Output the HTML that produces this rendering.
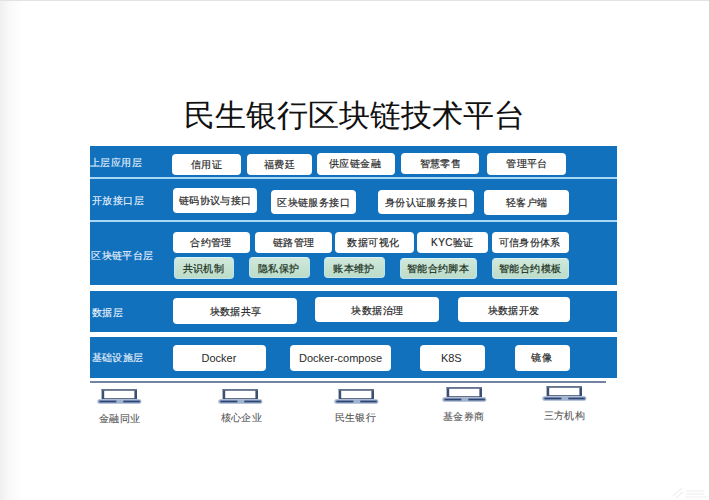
<!DOCTYPE html>
<html><head><meta charset="utf-8"><style>
html,body{margin:0;padding:0;}
body{width:710px;height:500px;position:relative;overflow:hidden;background:linear-gradient(to right,#efefef,#f8f8f8 8px,#fff 22px);font-family:"Liberation Sans",sans-serif;}
.band{position:absolute;left:89.5px;width:527px;background:#1271bd;}
.sep{position:absolute;left:89.5px;width:527px;background:#a9d9f7;}
.w,.g{position:absolute;box-sizing:border-box;border-radius:4px;}
.w{background:#fff;}
.g{background:linear-gradient(#d0e8dc,#bcdcc8);border:1.4px solid #bfe6f0;border-top-color:#d8f4f8;}
.t{position:absolute;white-space:nowrap;line-height:1;}
.title{font-size:30.5px;color:#111;}
.lab{font-size:10px;letter-spacing:0.4px;color:#eef6ff;-webkit-text-stroke:0.1px #eef6ff;}
.bt{font-size:10px;letter-spacing:0.4px;color:#262626;-webkit-text-stroke:0.18px #262626;}
.gt{font-size:10px;letter-spacing:0.4px;color:#1e3324;-webkit-text-stroke:0.22px #1e3324;}
.lt{font-size:11px;color:#2a2a2a;}
.bl{font-size:10px;letter-spacing:0.4px;color:#555;-webkit-text-stroke:0.1px #555;}
.lap{position:absolute;}
</style></head><body>
<div class="band" style="top:145.6px;height:31.6px"></div>
<div class="band" style="top:179px;height:41.4px"></div>
<div class="band" style="top:222.2px;height:62.8px"></div>
<div class="band" style="top:291px;height:40.8px"></div>
<div class="band" style="top:337.3px;height:40.9px"></div>
<div class="sep" style="top:177.2px;height:1.8px"></div>
<div class="sep" style="top:220.4px;height:1.8px"></div>
<div class="w" style="left:171.8px;top:153.5px;width:69.2px;height:21.5px"></div>
<div class="w" style="left:247px;top:153.5px;width:64.8px;height:21.5px"></div>
<div class="w" style="left:317px;top:153.2px;width:78.2px;height:21.4px"></div>
<div class="w" style="left:401px;top:152.7px;width:78.4px;height:21.2px"></div>
<div class="w" style="left:487px;top:153.2px;width:78.9px;height:21.4px"></div>
<div class="w" style="left:172.7px;top:187.7px;width:84.6px;height:25.4px"></div>
<div class="w" style="left:271px;top:189.6px;width:84.8px;height:24.9px"></div>
<div class="w" style="left:377.7px;top:189.6px;width:96.2px;height:24.9px"></div>
<div class="w" style="left:484.2px;top:189.9px;width:84.5px;height:25.3px"></div>
<div class="w" style="left:172.7px;top:231.6px;width:77.5px;height:21.0px"></div>
<div class="w" style="left:255.2px;top:232px;width:77.1px;height:20.8px"></div>
<div class="w" style="left:335.2px;top:232px;width:78.5px;height:21.0px"></div>
<div class="w" style="left:416.8px;top:232px;width:71.2px;height:21.0px"></div>
<div class="w" style="left:492px;top:232px;width:77.4px;height:21.2px"></div>
<div class="w" style="left:172.9px;top:298.4px;width:123.9px;height:25.8px"></div>
<div class="w" style="left:314.9px;top:296.8px;width:124.2px;height:25.2px"></div>
<div class="w" style="left:457.8px;top:296.8px;width:111.9px;height:25.2px"></div>
<div class="w" style="left:172.9px;top:345.3px;width:92.7px;height:25.6px"></div>
<div class="w" style="left:289.9px;top:345.3px;width:101.5px;height:25.6px"></div>
<div class="w" style="left:419.7px;top:345.3px;width:65.1px;height:25.6px"></div>
<div class="w" style="left:514.7px;top:345.3px;width:55.2px;height:25.6px"></div>
<div class="g" style="left:173.5px;top:257.4px;width:60.6px;height:21.2px"></div>
<div class="g" style="left:249.2px;top:257.4px;width:60.5px;height:21.1px"></div>
<div class="g" style="left:324.2px;top:257.4px;width:60.6px;height:21.1px"></div>
<div class="g" style="left:399.9px;top:257.7px;width:76.8px;height:21.1px"></div>
<div class="g" style="left:492px;top:257.7px;width:77.4px;height:21.1px"></div>
<div style="position:absolute;left:89.5px;top:381px;width:516px;height:1.8px;background:#7383a2"></div>
<svg class="lap" style="left:95.5px;top:389.2px" width="46" height="16" viewBox="0 0 46 16">
<rect x="5.6" y="0" width="35.4" height="10.2" fill="#3b4f72"/>
<rect x="5.5" y="0" width="35.5" height="1.6" fill="#66758f"/>
<rect x="8.2" y="1.8" width="30.2" height="7.4" fill="#fff"/>
<rect x="1.2" y="10.2" width="44.2" height="4.6" rx="2.2" fill="#a2b3d0"/>
<rect x="3.4" y="11.6" width="17" height="1.8" fill="#2d4676"/>
<rect x="27.3" y="11.6" width="16.5" height="1.8" fill="#2d4676"/>
</svg>
<svg class="lap" style="left:217.0px;top:389.2px" width="46" height="16" viewBox="0 0 46 16">
<rect x="5.6" y="0" width="35.4" height="10.2" fill="#3b4f72"/>
<rect x="5.5" y="0" width="35.5" height="1.6" fill="#66758f"/>
<rect x="8.2" y="1.8" width="30.2" height="7.4" fill="#fff"/>
<rect x="1.2" y="10.2" width="44.2" height="4.6" rx="2.2" fill="#a2b3d0"/>
<rect x="3.4" y="11.6" width="17" height="1.8" fill="#2d4676"/>
<rect x="27.3" y="11.6" width="16.5" height="1.8" fill="#2d4676"/>
</svg>
<svg class="lap" style="left:332.8px;top:388.5px" width="46" height="16" viewBox="0 0 46 16">
<rect x="5.6" y="0" width="35.4" height="10.2" fill="#3b4f72"/>
<rect x="5.5" y="0" width="35.5" height="1.6" fill="#66758f"/>
<rect x="8.2" y="1.8" width="30.2" height="7.4" fill="#fff"/>
<rect x="1.2" y="10.2" width="44.2" height="4.6" rx="2.2" fill="#a2b3d0"/>
<rect x="3.4" y="11.6" width="17" height="1.8" fill="#2d4676"/>
<rect x="27.3" y="11.6" width="16.5" height="1.8" fill="#2d4676"/>
</svg>
<svg class="lap" style="left:441.3px;top:387.4px" width="46" height="16" viewBox="0 0 46 16">
<rect x="5.6" y="0" width="35.4" height="10.2" fill="#3b4f72"/>
<rect x="5.5" y="0" width="35.5" height="1.6" fill="#66758f"/>
<rect x="8.2" y="1.8" width="30.2" height="7.4" fill="#fff"/>
<rect x="1.2" y="10.2" width="44.2" height="4.6" rx="2.2" fill="#a2b3d0"/>
<rect x="3.4" y="11.6" width="17" height="1.8" fill="#2d4676"/>
<rect x="27.3" y="11.6" width="16.5" height="1.8" fill="#2d4676"/>
</svg>
<svg class="lap" style="left:540.5px;top:386.3px" width="46" height="16" viewBox="0 0 46 16">
<rect x="5.6" y="0" width="35.4" height="10.2" fill="#3b4f72"/>
<rect x="5.5" y="0" width="35.5" height="1.6" fill="#66758f"/>
<rect x="8.2" y="1.8" width="30.2" height="7.4" fill="#fff"/>
<rect x="1.2" y="10.2" width="44.2" height="4.6" rx="2.2" fill="#a2b3d0"/>
<rect x="3.4" y="11.6" width="17" height="1.8" fill="#2d4676"/>
<rect x="27.3" y="11.6" width="16.5" height="1.8" fill="#2d4676"/>
</svg>
<div class="t title" style="left:183.50px;top:99.60px">民生银行区块链技术平台</div>
<div class="t lab" style="left:90.00px;top:158.00px">上层应用层</div>
<div class="t lab" style="left:92.00px;top:195.90px">开放接口层</div>
<div class="t lab" style="left:91.30px;top:250.70px">区块链平台层</div>
<div class="t lab" style="left:92.00px;top:307.90px">数据层</div>
<div class="t lab" style="left:91.50px;top:353.30px">基础设施层</div>
<div class="t bt" style="left:190.80px;top:159.60px">信用证</div>
<div class="t bt" style="left:264.00px;top:160.20px">福费廷</div>
<div class="t bt" style="left:329.00px;top:159.00px">供应链金融</div>
<div class="t bt" style="left:419.50px;top:159.00px">智慧零售</div>
<div class="t bt" style="left:506.20px;top:159.00px">管理平台</div>
<div class="t bt" style="left:178.90px;top:196.40px">链码协议与接口</div>
<div class="t bt" style="left:277.20px;top:198.10px">区块链服务接口</div>
<div class="t bt" style="left:384.80px;top:197.70px">身份认证服务接口</div>
<div class="t bt" style="left:505.80px;top:198.10px">轻客户端</div>
<div class="t bt" style="left:190.20px;top:237.90px">合约管理</div>
<div class="t bt" style="left:273.10px;top:237.90px">链路管理</div>
<div class="t bt" style="left:347.40px;top:237.90px">数据可视化</div>
<div class="t bt" style="left:431.10px;top:237.90px">KYC验证</div>
<div class="t bt" style="left:498.50px;top:237.90px">可信身份体系</div>
<div class="t gt" style="left:182.70px;top:263.90px">共识机制</div>
<div class="t gt" style="left:257.80px;top:263.90px">隐私保护</div>
<div class="t gt" style="left:333.20px;top:263.90px">账本维护</div>
<div class="t gt" style="left:406.90px;top:263.90px">智能合约脚本</div>
<div class="t gt" style="left:499.00px;top:263.90px">智能合约模板</div>
<div class="t bt" style="left:209.50px;top:307.00px">块数据共享</div>
<div class="t bt" style="left:351.40px;top:305.80px">块数据治理</div>
<div class="t bt" style="left:487.50px;top:305.80px">块数据开发</div>
<div class="t lt" style="left:201.50px;top:353.00px">Docker</div>
<div class="t lt" style="left:299.05px;top:353.00px">Docker-compose</div>
<div class="t lt" style="left:440.90px;top:353.00px">K8S</div>
<div class="t bt" style="left:531.40px;top:353.00px">镜像</div>
<div class="t bl" style="left:99.00px;top:414.00px">金融同业</div>
<div class="t bl" style="left:220.60px;top:413.00px">核心企业</div>
<div class="t bl" style="left:334.60px;top:413.30px">民生银行</div>
<div class="t bl" style="left:443.00px;top:412.00px">基金券商</div>
<div class="t bl" style="left:543.60px;top:411.00px">三方机构</div>
<div style="position:absolute;left:0;top:0;width:710px;height:1.2px;background:#e2e2e2"></div>
<div style="position:absolute;right:0;top:0;width:1.3px;height:500px;background:#d4d4d4"></div>
<svg style="position:absolute;left:670px;top:484px" width="40" height="16" viewBox="0 0 40 16"><g stroke="#f0f0f0" stroke-width="1.2" fill="none"><path d="M3 12 L12 4 M6 14 L13 8"/><path d="M16 7 h18 M16 10 h18" stroke="#eeeeee"/><path d="M15 13 h22" stroke="#f2f2f2"/></g></svg>
</body></html>
